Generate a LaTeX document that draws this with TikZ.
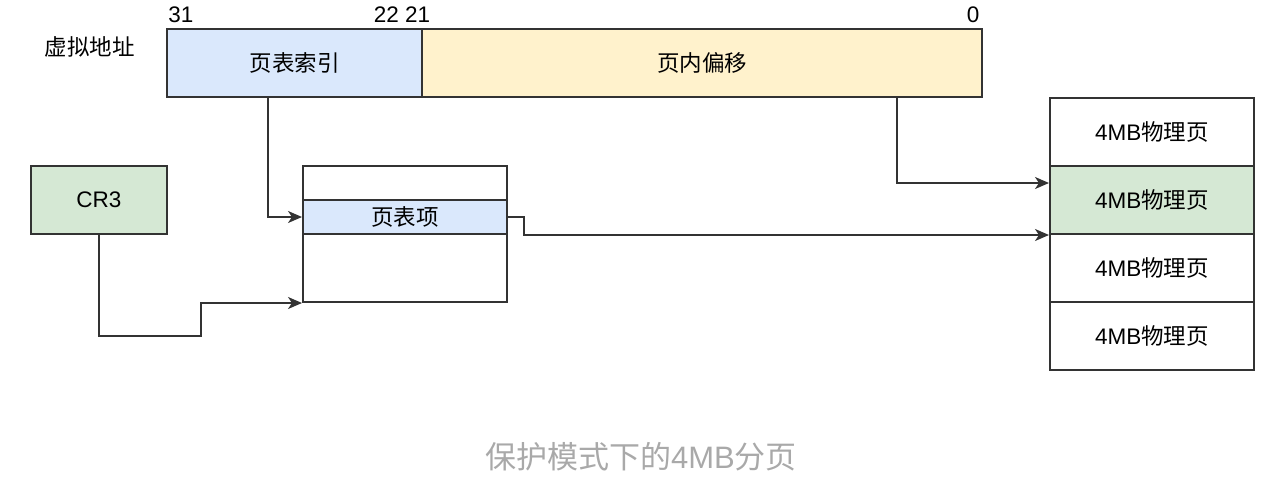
\documentclass[tikz,border=0pt]{standalone}
\usepackage{fontspec}
\setmainfont{Liberation Sans}
\newfontfamily\cjk{Noto Sans CJK SC}
\usetikzlibrary{arrows.meta}

\definecolor{idxblue}{HTML}{DAE8FC}
\definecolor{offyellow}{HTML}{FFF2CC}
\definecolor{pggreen}{HTML}{D5E8D4}
\definecolor{edge}{HTML}{333333}
\definecolor{capgray}{HTML}{A9A9A9}

\tikzset{
    cell/.style = {draw=edge, line width=2pt, inner sep=0pt, minimum height=68pt,
                   font=\fontsize{22.5}{26}\selectfont},
    arr/.style  = {draw=edge, line width=2pt, -{Stealth[length=14pt, width=12pt, inset=4pt]}},
    bits/.style = {font=\fontsize{22.5}{26}\selectfont, inner sep=0pt}
}

\begin{document}
\begin{tikzpicture}[x=1pt, y=-1pt]
    \useasboundingbox (0,0) rectangle (1282,485);

    \def \pw {204};   % width of table and page boxes
    \def \px {1152};  % centre of the page column

    % virtual address
    \node[bits] (va)   at (89.5,47)  {\cjk 虚拟地址};
    \node[bits] (b31)  at (181,15)   {31};
    \node[bits] (b22)  at (402,15)   {22 21};
    \node[bits] (b0)   at (973,15)   {0};

    \node[cell, fill=idxblue,   minimum width=255pt] (idx) at (294.5,63) {\cjk 页表索引};
    \node[cell, fill=offyellow, minimum width=560pt] (off) at (702,63)   {\cjk 页内偏移};

    \node[cell, fill=pggreen, minimum width=136pt] (cr3) at (99,200) {CR3};

    % page table
    \node[cell, minimum width=\pw pt, minimum height=136pt] (tbl) at (405,234) {};
    \node[cell, fill=idxblue, minimum width=\pw pt, minimum height=34pt] (ent) at (405,217) {\cjk 页表项};

    % physical pages
    \foreach \i/\y/\c in {1/131.5/white, 2/200/pggreen, 3/268/white, 4/336/white}
        \node[cell, fill=\c, minimum width=\pw pt] (pg\i) at (\px,\y) {4MB{\cjk 物理页}};

    \coordinate (bend) at (201,336);

    \draw[arr] ([xshift=-27pt]idx.south) |- (ent.west);
    \draw[arr] ([xshift=195pt]off.south) |- ([yshift=17pt]pg2.west);
    \draw[arr] (ent.east) -- ++(16,0) |- (pg2.south west);
    \draw[arr] (cr3.south) |- (bend) |- (tbl.south west);

    \node[font=\fontsize{31}{35}\selectfont, text=capgray] (cap) at (641,457) {{\cjk 保护模式下的}4MB{\cjk 分页}};
\end{tikzpicture}
\end{document}
